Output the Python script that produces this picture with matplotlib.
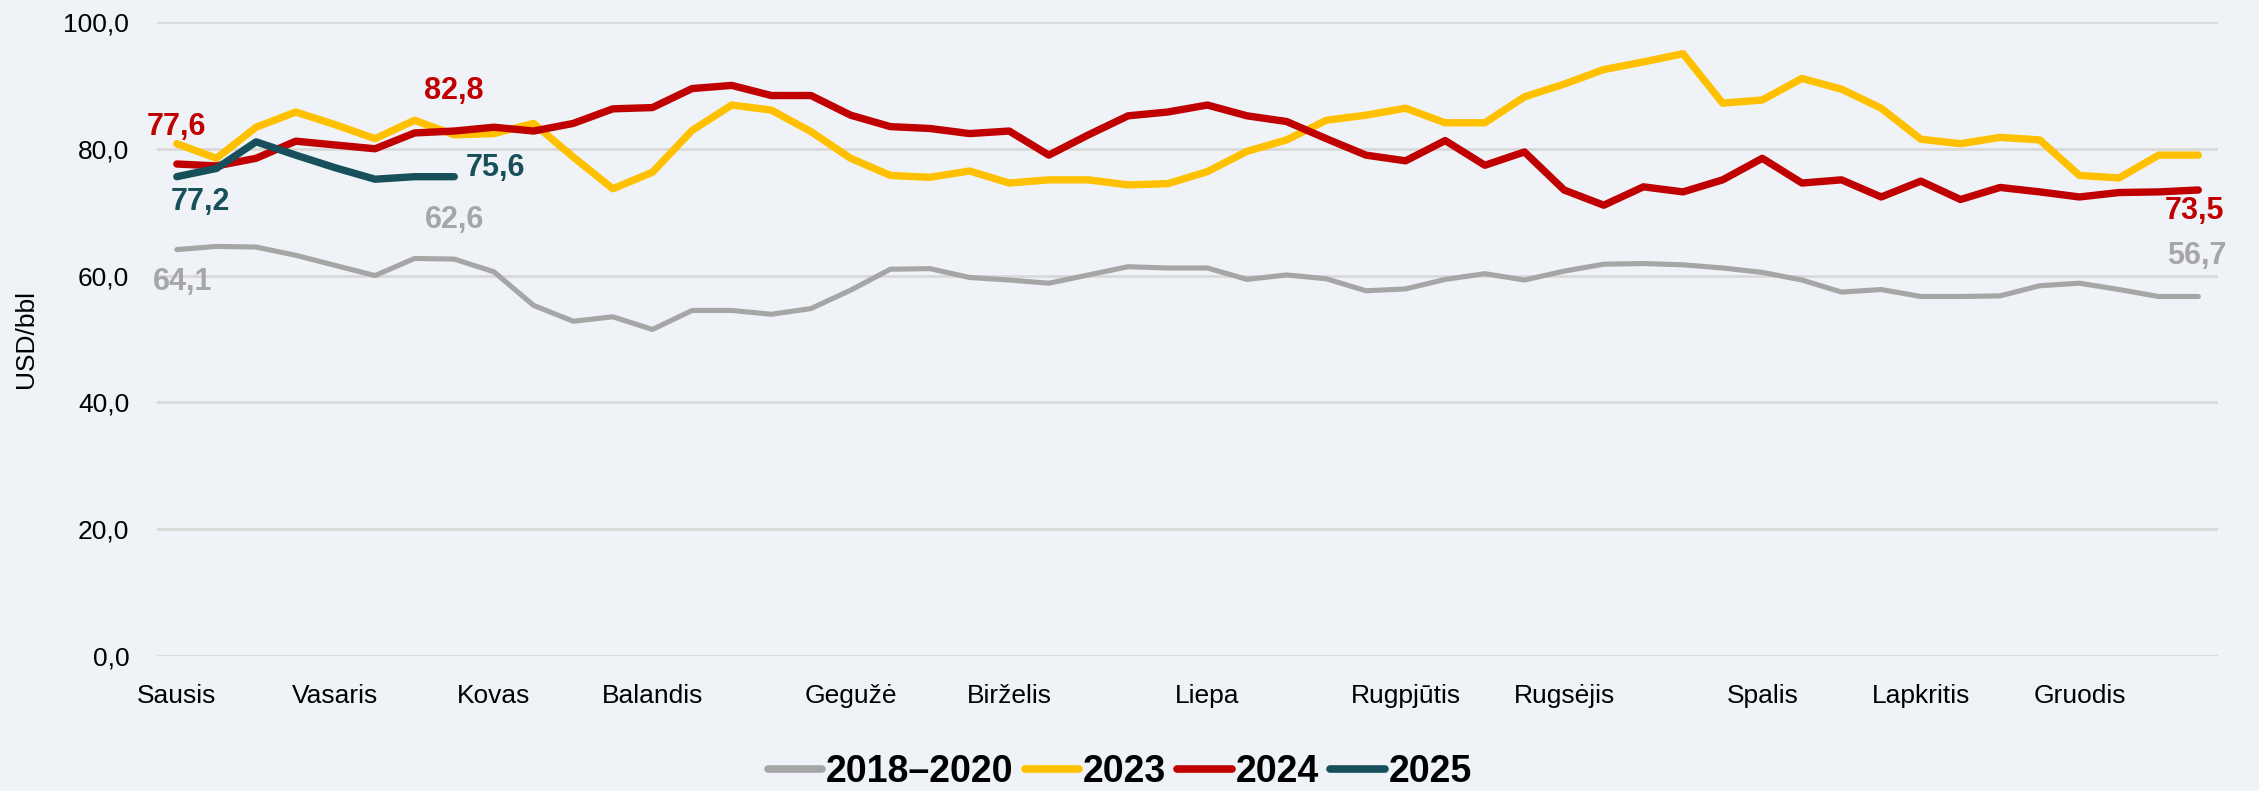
import numpy as np
import matplotlib
matplotlib.use('Agg')
import matplotlib.pyplot as plt
from matplotlib.lines import Line2D

plt.rcParams['font.family'] = ['Liberation Sans', 'DejaVu Sans']

# weekly prices, USD/bbl (52 weeks)
avg_2018_2020 = [64.1, 64.6, 64.5, 63.2, 61.6, 60.0, 62.7, 62.6, 60.6, 55.3,
                 52.8, 53.5, 51.5, 54.5, 54.5, 53.9, 54.8, 57.7, 61.0, 61.1,
                 59.7, 59.3, 58.8, 60.1, 61.4, 61.2, 61.2, 59.4, 60.1, 59.5,
                 57.6, 57.9, 59.4, 60.3, 59.3, 60.7, 61.8, 61.9, 61.7, 61.2,
                 60.5, 59.3, 57.4, 57.8, 56.7, 56.7, 56.8, 58.4, 58.8, 57.8,
                 56.7, 56.7]
y2023 = [80.8, 78.5, 83.4, 85.8, 83.8, 81.6, 84.5, 82.2, 82.4, 84.0,
         78.7, 73.7, 76.3, 82.9, 86.9, 86.1, 82.7, 78.5, 75.8, 75.5,
         76.5, 74.6, 75.1, 75.1, 74.3, 74.5, 76.4, 79.6, 81.4, 84.5,
         85.3, 86.4, 84.1, 84.1, 88.2, 90.2, 92.5, 93.7, 95.0, 87.2,
         87.7, 91.1, 89.4, 86.4, 81.5, 80.8, 81.8, 81.4, 75.8, 75.4,
         79.0, 79.0]
y2024 = [77.6, 77.3, 78.5, 81.2, 80.6, 80.0, 82.5, 82.8, 83.4, 82.8,
         84.0, 86.3, 86.5, 89.5, 90.0, 88.4, 88.4, 85.3, 83.5, 83.2,
         82.4, 82.8, 79.0, 82.2, 85.2, 85.8, 86.9, 85.2, 84.3, 81.6,
         79.0, 78.1, 81.3, 77.4, 79.5, 73.5, 71.1, 74.0, 73.2, 75.1,
         78.5, 74.6, 75.1, 72.4, 74.9, 72.0, 73.9, 73.2, 72.4, 73.1,
         73.2, 73.5]
y2025 = [75.6, 76.9, 81.1, 79.0, 77.0, 75.2, 75.6, 75.6]

months = ['Sausis', 'Vasaris', 'Kovas', 'Balandis', 'Gegužė', 'Birželis',
          'Liepa', 'Rugpjūtis', 'Rugsėjis', 'Spalis', 'Lapkritis', 'Gruodis']
month_weeks = [0, 4, 8, 12, 17, 21, 26, 31, 35, 40, 44, 48]

bg = '#EFF3F7'
c_gray, c_yel, c_red, c_teal = '#A6A6A6', '#FFC000', '#C00000', '#17505A'

fig = plt.figure(figsize=(22.59, 7.91), dpi=100, facecolor=bg)
ax = fig.add_axes([0.0695, 0.1707, 0.9124, 0.8015])
ax.set_facecolor(bg)

series = [('2018–2020', avg_2018_2020, c_gray, 3.7),
          ('2023', y2023, c_yel, 5.3),
          ('2024', y2024, c_red, 5.3),
          ('2025', y2025, c_teal, 5.3)]
for name, vals, col, lw in series:
    ax.plot(np.arange(len(vals)), vals, color=col, lw=lw,
            solid_capstyle='round', solid_joinstyle='round')

ax.set_xlim(-0.5, 51.5)
ax.set_ylim(0, 100)
ax.set_yticks(np.arange(0, 101, 20))
ax.set_yticklabels([f'{v:.1f}'.replace('.', ',') for v in range(0, 101, 20)])
ax.set_xticks(month_weeks)
ax.set_xticklabels(months)
ax.tick_params(length=0, labelsize=19)
ax.tick_params(axis='x', pad=20)
ax.tick_params(axis='y', pad=20)
ax.grid(axis='y', color='#D9D9D9', lw=2)
ax.set_axisbelow(True)
for s in ax.spines.values():
    s.set_visible(False)
ax.set_ylabel('USD/bbl', fontsize=19, labelpad=18)


def tag(x, vals, text, col, dx, dy, ha='center'):
    ax.annotate(text, (x, vals[x]), xytext=(dx, dy), textcoords='offset points',
                ha=ha, va='center', fontsize=22, fontweight='bold', color=col)


tag(0, y2024, '77,6', c_red, 0, 27)
tag(7, y2024, '82,8', c_red, 0, 29)
tag(0, y2025, '77,2', c_teal, 17, -18)
tag(7, y2025, '75,6', c_teal, 8, 6, ha='left')
tag(7, avg_2018_2020, '62,6', c_gray, 0, 28)
tag(0, avg_2018_2020, '64,1', c_gray, 4, -23)
tag(51, y2024, '73,5', c_red, -3, -15)
tag(51, avg_2018_2020, '56,7', c_gray, -1, 29)

handles = [Line2D([0], [0], color=col, lw=5.5, solid_capstyle='round')
           for _, _, col, _ in series]
fig.legend(handles, [s[0] for s in series], loc='center',
           bbox_to_anchor=(0.4957, 0.024), ncol=4, frameon=False,
           prop={'size': 27, 'weight': 'bold'}, handlelength=1.45,
           handletextpad=0.1, columnspacing=0.3)

fig.savefig('out.png', dpi=100, facecolor=bg)
